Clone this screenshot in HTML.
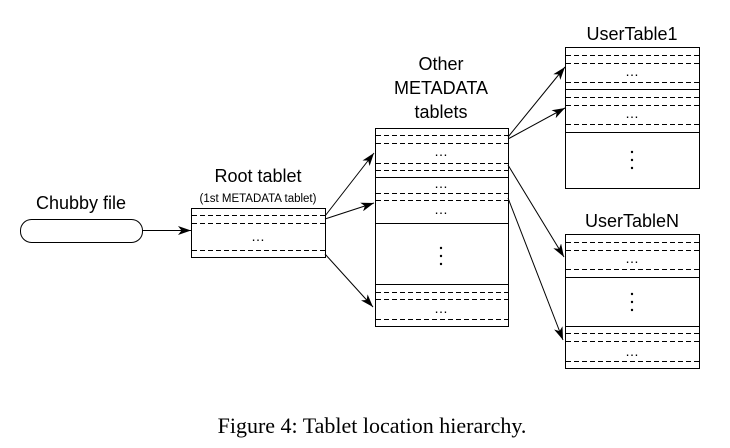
<!DOCTYPE html>
<html><head><meta charset="utf-8"><style>
html,body{margin:0;padding:0;background:#fff;}
svg{display:block;}
text{font-family:"Liberation Sans",sans-serif;fill:#000;}
</style></head><body>
<svg width="730" height="448" viewBox="0 0 730 448" xmlns="http://www.w3.org/2000/svg">
<defs>
<marker id="a" viewBox="0 0 13 9" refX="13" refY="4.5" markerWidth="13" markerHeight="9" markerUnits="userSpaceOnUse" orient="auto">
<path d="M0,0 L13,4.5 L0,9 L3.5,4.5 Z" fill="#000"/>
</marker>
</defs>
<g stroke="#000" fill="none" stroke-width="1">
<rect x="20.5" y="219.5" width="122" height="23" rx="11" ry="11"/>
<line x1="142" y1="230.5" x2="191" y2="230.5" marker-end="url(#a)"/>
<rect x="191.5" y="208.5" width="134" height="49"/>
<g stroke-dasharray="5,3">
<line x1="192" y1="215.5" x2="325" y2="215.5"/>
<line x1="192" y1="223.5" x2="325" y2="223.5"/>
<line x1="192" y1="250.5" x2="325" y2="250.5"/>
</g>
<line x1="325" y1="216" x2="374" y2="153" marker-end="url(#a)"/>
<line x1="325" y1="219" x2="374" y2="203" marker-end="url(#a)"/>
<line x1="325" y1="254" x2="373" y2="307" marker-end="url(#a)"/>
<rect x="375.5" y="128.5" width="133" height="198"/>
<line x1="376" y1="177.5" x2="508" y2="177.5"/>
<line x1="376" y1="223.5" x2="508" y2="223.5"/>
<line x1="376" y1="284.5" x2="508" y2="284.5"/>
<g stroke-dasharray="5,3">
<line x1="376" y1="135.5" x2="508" y2="135.5"/>
<line x1="376" y1="143.5" x2="508" y2="143.5"/>
<line x1="376" y1="163.5" x2="508" y2="163.5"/>
<line x1="376" y1="170.5" x2="508" y2="170.5"/>
<line x1="376" y1="193.5" x2="508" y2="193.5"/>
<line x1="376" y1="200.5" x2="508" y2="200.5"/>
<line x1="376" y1="292.5" x2="508" y2="292.5"/>
<line x1="376" y1="299.5" x2="508" y2="299.5"/>
<line x1="376" y1="319.5" x2="508" y2="319.5"/>
</g>
<line x1="508" y1="137" x2="565" y2="67" marker-end="url(#a)"/>
<line x1="508" y1="139" x2="565" y2="108" marker-end="url(#a)"/>
<line x1="508" y1="165" x2="564" y2="257" marker-end="url(#a)"/>
<line x1="508" y1="198" x2="563" y2="340" marker-end="url(#a)"/>
<rect x="565.5" y="47.5" width="134" height="141"/>
<line x1="566" y1="89.5" x2="699" y2="89.5"/>
<line x1="566" y1="132.5" x2="699" y2="132.5"/>
<g stroke-dasharray="5,3">
<line x1="566" y1="55.5" x2="699" y2="55.5"/>
<line x1="566" y1="63.5" x2="699" y2="63.5"/>
<line x1="566" y1="82.5" x2="699" y2="82.5"/>
<line x1="566" y1="97.5" x2="699" y2="97.5"/>
<line x1="566" y1="105.5" x2="699" y2="105.5"/>
<line x1="566" y1="124.5" x2="699" y2="124.5"/>
</g>
<rect x="565.5" y="234.5" width="134" height="134"/>
<line x1="566" y1="277.5" x2="699" y2="277.5"/>
<line x1="566" y1="326.5" x2="699" y2="326.5"/>
<g stroke-dasharray="5,3">
<line x1="566" y1="242.5" x2="699" y2="242.5"/>
<line x1="566" y1="250.5" x2="699" y2="250.5"/>
<line x1="566" y1="269.5" x2="699" y2="269.5"/>
<line x1="566" y1="333.5" x2="699" y2="333.5"/>
<line x1="566" y1="341.5" x2="699" y2="341.5"/>
<line x1="566" y1="361.5" x2="699" y2="361.5"/>
</g>
</g>
<g font-size="18" text-anchor="middle">
<text x="81" y="209">Chubby file</text>
<text x="258" y="182">Root tablet</text>
<text x="441" y="70">Other</text>
<text x="441" y="94">METADATA</text>
<text x="441" y="118">tablets</text>
<text x="632" y="40">UserTable1</text>
<text x="632" y="227">UserTableN</text>
</g>
<text x="258" y="202" font-size="11.5" text-anchor="middle">(1st METADATA tablet)</text>
<g font-size="14" text-anchor="middle">
<text x="258" y="241">…</text>
<text x="441" y="156">…</text>
<text x="441" y="188">…</text>
<text x="441" y="214">…</text>
<text x="441" y="313">…</text>
<text x="632" y="76">…</text>
<text x="632" y="118">…</text>
<text x="632" y="263">…</text>
<text x="632" y="356">…</text>
</g>
<g fill="#000">
<circle cx="441" cy="248" r="1.2"/><circle cx="441" cy="256" r="1.2"/><circle cx="441" cy="264" r="1.2"/>
<circle cx="632" cy="152" r="1.2"/><circle cx="632" cy="160" r="1.2"/><circle cx="632" cy="168" r="1.2"/>
<circle cx="632" cy="294" r="1.2"/><circle cx="632" cy="302" r="1.2"/><circle cx="632" cy="310" r="1.2"/>
</g>
<text x="372" y="433" style="font-family:'Liberation Serif',serif;font-size:22px;" text-anchor="middle">Figure 4: Tablet location hierarchy.</text>
</svg>
</body></html>
